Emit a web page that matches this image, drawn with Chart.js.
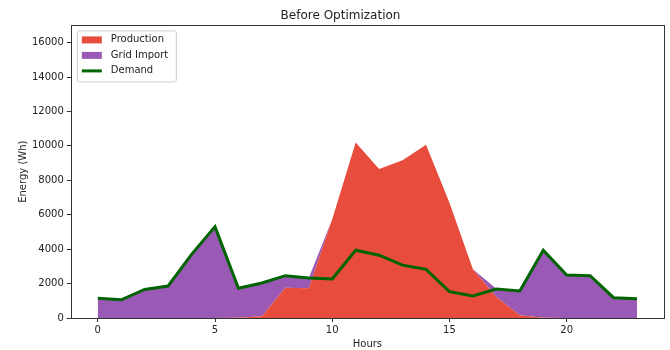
<!DOCTYPE html>
<html>
<head>
<meta charset="utf-8">
<script src="https://cdn.jsdelivr.net/npm/chart.js@4"></script>
<style>
  html, body { margin: 0; padding: 0; background: #fff; }
  #wrap { width: 670px; height: 350px; }
</style>
</head>
<body>
<div id="wrap"><canvas id="energyChart"></canvas></div>
<script>
const hours = [0, 1, 2, 3, 4, 5, 6, 7, 8, 9, 10, 11, 12, 13, 14, 15, 16, 17, 18, 19, 20, 21, 22, 23];
const production = [0, 0, 0, 0, 0, 0, 15, 100, 1760, 1730, 5740, 10190, 8650, 9170, 10060, 6700, 2830, 1220, 155, 10, 0, 0, 0, 0];
const gridImport = [1150, 1060, 1660, 1860, 3700, 5310, 1710, 1935, 700, 600, 0, 0, 0, 0, 0, 0, 0, 480, 1415, 3925, 2500, 2460, 1180, 1120];
const demand = [1150, 1060, 1660, 1860, 3700, 5310, 1725, 2035, 2460, 2330, 2270, 3940, 3650, 3070, 2830, 1530, 1280, 1680, 1570, 3935, 2500, 2460, 1180, 1120];
const xTicks = [0, 5, 10, 15, 20];
const yTicks = [0, 2000, 4000, 6000, 8000, 10000, 12000, 14000, 16000];

const font = 'DejaVu Sans';

function pts(values) {
    return hours.map((h, i) => ({ x: h, y: values[i] }));
}

// matplotlib-like frame around the plot area
const framePlugin = {
    id: 'frame',
    afterDatasetsDraw(chart) {
        const { ctx, chartArea: a } = chart;
        ctx.save();
        ctx.strokeStyle = '#333';
        ctx.lineWidth = 1;
        ctx.strokeRect(Math.round(a.left) + 0.5, Math.round(a.top) + 0.5,
            Math.round(a.right - a.left), Math.round(a.bottom - a.top));
        ctx.restore();
    }
};

// legend drawn inside the plot, upper left
const innerLegend = {
    id: 'innerLegend',
    afterDraw(chart) {
        const { ctx, chartArea: a } = chart;
        const x0 = a.left + 6, y0 = a.top + 5;
        ctx.save();
        ctx.fillStyle = 'rgba(255,255,255,0.8)';
        ctx.strokeStyle = '#cccccc';
        ctx.lineWidth = 1;
        ctx.beginPath();
        ctx.roundRect(x0 + 0.5, y0 + 0.5, 99, 51, 2);
        ctx.fill();
        ctx.stroke();
        ctx.font = '10px ' + font;
        ctx.textBaseline = 'middle';
        chart.data.datasets.forEach((ds, i) => {
            const cy = y0 + 9.5 + i * 15.5;
            if (ds.fill) {
                ctx.fillStyle = ds.backgroundColor;
                ctx.fillRect(x0 + 5, cy - 3.5, 20, 7);
            } else {
                ctx.strokeStyle = ds.borderColor;
                ctx.lineWidth = 3;
                ctx.beginPath();
                ctx.moveTo(x0 + 5, cy);
                ctx.lineTo(x0 + 25, cy);
                ctx.stroke();
            }
            ctx.fillStyle = '#222';
            ctx.fillText(ds.label, x0 + 34, cy);
        });
        ctx.restore();
    }
};

new Chart(document.getElementById('energyChart'), {
    type: 'line',
    data: {
        datasets: [{
            label: 'Production',
            data: pts(production),
            backgroundColor: '#e74c3c',
            borderWidth: 0,
            fill: 'origin',
            stack: 'supply',
            order: 2
        }, {
            label: 'Grid Import',
            data: pts(gridImport),
            backgroundColor: '#9b59b6',
            borderWidth: 0,
            fill: '-1',
            stack: 'supply',
            order: 3
        }, {
            label: 'Demand',
            data: pts(demand),
            borderColor: '#006400',
            borderWidth: 3,
            fill: false,
            stack: 'demand',
            order: 1
        }]
    },
    options: {
        responsive: true,
        maintainAspectRatio: false,
        animation: false,
        elements: { point: { radius: 0 }, line: { tension: 0 } },
        layout: { padding: { left: 17, right: 6, bottom: 0 } },
        plugins: {
            legend: { display: false },
            tooltip: { enabled: false },
            title: {
                display: true,
                text: 'Before Optimization',
                color: '#222',
                font: { family: font, size: 12, weight: 'normal' },
                padding: { top: 9, bottom: 2 }
            },
            filler: { propagate: false }
        },
        scales: {
            x: {
                type: 'linear',
                min: -1.15,
                max: 24.15,
                afterBuildTicks: (axis) => { axis.ticks = xTicks.map(v => ({ value: v })); },
                grid: { drawOnChartArea: false, drawTicks: true, tickLength: 4, color: '#333' },
                border: { display: false },
                ticks: { color: '#222', font: { family: font, size: 10 }, padding: 2, maxRotation: 0, callback: v => String(v) },
                title: { display: true, text: 'Hours', color: '#222', font: { family: font, size: 10 }, padding: { top: 0, bottom: 0 } }
            },
            y: {
                stacked: true,
                min: 0,
                max: 17000,
                afterBuildTicks: (axis) => { axis.ticks = yTicks.map(v => ({ value: v })); },
                grid: { drawOnChartArea: false, drawTicks: true, tickLength: 4, color: '#333' },
                border: { display: false },
                ticks: { color: '#222', font: { family: font, size: 10 }, padding: 3, callback: v => String(v) },
                title: { display: true, text: 'Energy (Wh)', color: '#222', font: { family: font, size: 10 }, padding: { top: 0, bottom: 0 } }
            }
        }
    },
    plugins: [framePlugin, innerLegend]
});
</script>
</body>
</html>
